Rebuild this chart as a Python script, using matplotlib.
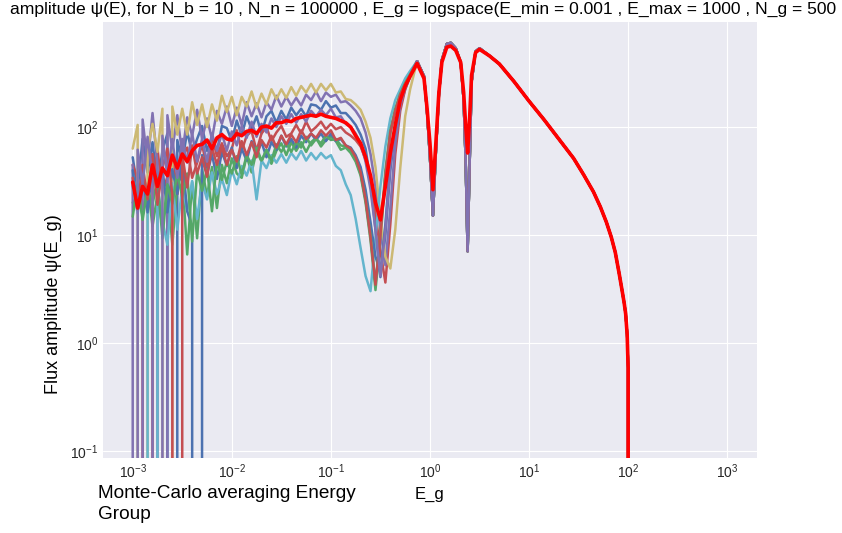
import numpy as np
import matplotlib
matplotlib.use("Agg")
import matplotlib.pyplot as plt
from cycler import cycler

plt.style.use("seaborn-v0_8-darkgrid")
plt.rcParams["axes.prop_cycle"] = cycler(color=["#4C72B0", "#55A868", "#C44E52",
                                                "#8172B2", "#CCB974", "#64B5CD"])

# energy grid: uniform in log10(E) through the thermal / epithermal part,
# then hand-placed points through the resonances and the fast tail
E_low = np.logspace(-3.0, -0.2, 57)
log_E_high = [-0.13, -0.06, -0.03, 0.0, 0.03, 0.06, 0.09, 0.12, 0.17, 0.21,
              0.26, 0.31, 0.34, 0.36, 0.38, 0.40, 0.42, 0.46, 0.50,
              0.60, 0.70, 0.85, 1.00, 1.15, 1.30, 1.45, 1.55, 1.65, 1.72,
              1.78, 1.83, 1.87, 1.91, 1.94, 1.96, 1.975, 1.99, 2.00, 2.01]

# log10 of the batch flux on E_low; None marks an empty tally (flux = 0)
log_flux_b0 = [1.72, 1.42, 1.89, 1.58, 1.86, 1.46, 1.78, 1.94, None, 1.88,
               1.68, 1.96, 1.75, 1.89, 2.01, 1.78, 1.91, 1.77, 2.01, 1.99,
               1.87, 2.06, 1.92, 2.10, 1.98, 2.10, 1.94, 2.10, 2.15, 2.04,
               2.15, 2.07, 2.18, 2.11, 2.17, 2.10, 2.21, 2.20, 2.16, 2.24,
               2.18, 2.20, 2.13, 2.13,
               2.08, 2.02, 1.93, 1.80, 1.50, 1.05, 0.61, 1.00, 1.60, 1.98,
               2.20, 2.35, 2.47]
log_flux_b1 = [1.30, 1.37, 1.18, 1.48, 1.08, 1.38, 1.07, 1.46, 0.91, 1.48,
               1.55, 0.82, 1.49, 0.97, 1.61, 1.36, 1.63, 1.25, 1.65, 1.48,
               1.71, 1.57, 1.53, 1.73, 1.58, 1.78, 1.68, 1.79, 1.66, 1.78,
               1.85, 1.74, 1.86, 1.78, 1.86, 1.77, 1.86, 1.90, 1.82, 1.88,
               1.91, 1.87, 1.79, 1.81,
               1.76, 1.68, 1.55, 1.30, 0.95, 0.49, 0.95, 1.55, 1.95, 2.15,
               2.30, 2.40, 2.48]
log_flux_b2 = [1.65, 1.52, 1.27, None, 1.43, 1.80, 1.39, 1.54, 1.76, 1.38,
               1.73, 1.81, 1.53, 1.67, 1.84, 1.62, 1.92, 1.73, 1.85, 1.73,
               1.80, 1.97, 1.78, 1.92, 1.96, 1.78, 1.94, 2.00, 1.87, 1.95,
               2.01, 1.91, 1.94, 2.02, 1.94, 2.05, 1.96, 2.00, 2.05, 1.98,
               2.03, 1.98, 2.00, 1.95,
               1.92, 1.88, 1.82, 1.70, 1.50, 1.20, 0.85, 0.56, 1.10, 1.75,
               2.15, 2.35, 2.47]
log_flux_b3 = [1.65, None, 2.07, 1.66, 2.13, 1.65, None, 2.11, 1.79, 2.11,
               1.75, 2.09, 1.92, 2.16, 1.89, 2.08, 1.89, 2.15, 2.03, 2.19,
               2.01, 2.18, 2.02, 2.23, 2.10, 2.22, 2.09, 2.23, 2.16, 2.29,
               2.19, 2.28, 2.20, 2.27, 2.20, 2.30, 2.25, 2.33, 2.24, 2.32,
               2.28, 2.30, 2.23, 2.24,
               2.20, 2.15, 2.08, 1.95, 1.75, 1.45, 1.05, 0.72, 1.25, 1.85,
               2.20, 2.38, 2.48]
log_flux_b4 = [1.80, 2.02, None, 1.79, 2.03, 1.77, 2.17, None, 2.19, 1.93,
               2.17, 1.93, 2.23, 2.02, 2.21, 2.00, 2.21, 2.06, 2.29, 2.14,
               2.28, 2.11, 2.28, 2.19, 2.33, 2.18, 2.31, 2.21, 2.35, 2.26,
               2.35, 2.27, 2.37, 2.29, 2.38, 2.32, 2.40, 2.32, 2.40, 2.34,
               2.40, 2.32, 2.33, 2.26,
               2.25, 2.21, 2.16, 2.05, 1.90, 1.63, 1.17, 0.80, 0.69, 1.05,
               1.62, 2.10, 2.35]
log_flux_b5 = [1.45, 1.20, 1.51, 1.24, None, 1.45, 1.13, 0.91, 1.48, 1.05,
               1.45, 1.22, 1.50, 1.15, 1.49, 1.33, 1.58, 1.38, 1.52, 1.37,
               1.60, 1.47, 1.64, 1.55, 1.69, 1.33, 1.69, 1.62, 1.74, 1.67,
               1.75, 1.67, 1.76, 1.70, 1.78, 1.69, 1.76, 1.70, 1.76, 1.71,
               1.74, 1.64, 1.60, 1.47,
               1.37, 1.15, 0.88, 0.62, 0.48, 0.98, 1.45, 1.82, 2.08, 2.25,
               2.35, 2.45, 2.52]
log_flux_b6 = [1.60, 1.25, 1.57, 1.21, 1.65, 1.37, 1.62, 1.21, 1.61, 1.38,
               1.71, 1.22, 1.08, None, 1.74, 1.56, 1.75, 1.52, 1.77, 1.64,
               1.81, 1.62, 1.80, 1.69, 1.87, 1.75, 1.86, 1.72, 1.86, 1.79,
               1.92, 1.82, 1.89, 1.81, 1.92, 1.86, 1.94, 1.88, 1.94, 1.87,
               1.94, 1.87, 1.89, 1.83,
               1.81, 1.74, 1.63, 1.42, 1.12, 0.80, 0.65, 1.10, 1.68, 2.02,
               2.23, 2.37, 2.48]
log_flux_b7 = [1.17, 1.47, 1.14, 1.43, 1.28, 1.53, 0.97, 1.47, 1.29, 1.58,
               1.35, 1.57, 0.94, 1.59, 1.41, 1.61, 1.22, 1.69, 1.51, 1.68,
               1.57, 1.73, 1.56, 1.74, 1.65, 1.81, 1.69, 1.79, 1.69, 1.84,
               1.77, 1.85, 1.77, 1.86, 1.81, 1.91, 1.83, 1.89, 1.85, 1.92,
               1.88, 1.89, 1.83, 1.82,
               1.78, 1.70, 1.57, 1.33, 1.00, 0.55, 1.02, 1.60, 1.97, 2.17,
               2.31, 2.41, 2.49]
log_flux_b8 = [1.53, 1.23, 1.65, 1.33, 1.75, 1.28, 1.62, 1.80, 1.37, None,
               1.75, 1.44, 1.83, 1.57, 1.72, 1.54, 1.81, 1.65, 1.82, 1.65,
               1.79, 1.68, 1.87, 1.74, 1.86, 1.72, 1.88, 1.81, 1.92, 1.81,
               1.92, 1.84, 1.93, 1.86, 1.97, 1.89, 1.94, 1.90, 1.97, 1.92,
               1.97, 1.88, 1.90, 1.83,
               1.80, 1.72, 1.58, 1.33, 0.98, 0.54, 1.00, 1.55, 1.95, 2.15,
               2.30, 2.40, 2.48]
log_flux_b9 = [None, 1.79, 1.47, 1.91, 1.55, None, 1.92, 1.54, 1.89, 1.53,
               1.89, 1.67, 1.94, 1.68, 1.89, 1.68, 1.94, 1.78, 1.94, 1.78,
               1.96, 1.83, 2.01, 1.90, 2.05, 1.91, 2.03, 1.95, 2.08, 2.00,
               2.10, 2.03, 2.12, 2.04, 2.12, 2.05, 2.15, 2.10, 2.16, 2.11,
               2.17, 2.09, 2.10, 2.03,
               2.00, 1.94, 1.85, 1.68, 1.42, 1.05, 0.62, 1.05, 1.65, 2.00,
               2.22, 2.37, 2.48]

# above ~0.7 eV the batches agree; one profile on log_E_high for all of them
log_flux_batch_high = [2.61, 2.47, 2.15, 1.72, 1.18, 1.78, 2.30, 2.62, 2.77, 2.78,
                       2.73, 2.60, 2.25, 1.70, 0.85, 1.65, 2.42, 2.70, 2.73,
                       2.66, 2.585, 2.42, 2.24, 2.07, 1.89, 1.71, 1.56, 1.40, 1.26,
                       1.12, 0.98, 0.84, 0.64, 0.48, 0.37, 0.27, 0.08, -0.23, None]

# batch average
log_flux_mean_low = [1.49, 1.25, 1.45, 1.38, 1.65, 1.45, 1.62, 1.55, 1.74, 1.62,
                     1.75, 1.68, 1.78, 1.83, 1.84, 1.88, 1.80, 1.90, 1.93, 1.89,
                     1.88, 1.94, 1.92, 1.96, 1.97, 1.94, 2.00, 2.01, 1.99, 2.04,
                     2.04, 2.06, 2.05, 2.08, 2.09, 2.10, 2.11, 2.10, 2.12, 2.10,
                     2.09, 2.08, 2.06, 2.04,
                     2.00, 1.92, 1.85, 1.72, 1.55, 1.30, 1.14, 1.45, 1.76, 2.02,
                     2.25, 2.38, 2.47]
log_flux_mean_high = [2.59, 2.45, 2.18, 1.85, 1.42, 1.86, 2.32, 2.60, 2.74, 2.75,
                      2.71, 2.60, 2.32, 2.02, 1.76, 2.08, 2.48, 2.69, 2.72,
                      2.66, 2.585, 2.42, 2.24, 2.07, 1.89, 1.71, 1.56, 1.40, 1.26,
                      1.12, 0.98, 0.84, 0.64, 0.48, 0.37, 0.27, 0.08, -0.23, None]

batches = [log_flux_b0, log_flux_b1, log_flux_b2, log_flux_b3, log_flux_b4,
           log_flux_b5, log_flux_b6, log_flux_b7, log_flux_b8, log_flux_b9]

N_b = 10
N_n = 100000
E_min, E_max, N_g = 0.001, 1000, 500


def to_flux(log_vals):
    # empty tallies are stored as None -> zero flux (drops off the log axis)
    return np.array([0.0 if v is None else 10.0 ** v for v in log_vals])


E_all = np.concatenate([E_low, 10.0 ** np.array(log_E_high)])

fig = plt.figure(figsize=(8.42, 5.33), dpi=100)
ax = fig.add_axes([0.1223, 0.1407, 0.7767, 0.818])
ax.set_xscale("log")
ax.set_yscale("log")

for b in batches:
    psi = np.concatenate([to_flux(b), to_flux(log_flux_batch_high)])
    ax.plot(E_all, psi, lw=1.8)

psi_mean = np.concatenate([to_flux(log_flux_mean_low), to_flux(log_flux_mean_high)])
ax.plot(E_all, psi_mean, color="r", lw=2.6)

ax.set_xlim(10 ** -3.3, 10 ** 3.3)
ax.set_ylim(0.086, 940)
ax.set_xticks([1e-3, 1e-2, 1e-1, 1e0, 1e1, 1e2, 1e3])
ax.set_yticks([1e-1, 1e0, 1e1, 1e2])
ax.minorticks_off()
ax.tick_params(labelsize=10)
ax.set_xlabel("E_g", fontsize=12, color="k")
ax.set_ylabel("Flux amplitude \u03c8(E_g)", fontsize=13, color="k")
ax.yaxis.set_label_coords(-0.063, 0.353)

title = ("amplitude \u03c8(E), for N_b = %d , N_n = %d , E_g = logspace(E_min = %g , "
         "E_max = %g , N_g = %d" % (N_b, N_n, E_min, E_max, N_g))
fig.text(423 / 842, 1 - 14 / 533, title, ha="center", va="baseline",
         fontsize=12.6, color="k")
fig.text(98 / 842, 1 - 485 / 533, "Monte-Carlo averaging Energy\nGroup",
         ha="left", va="top", fontsize=13.7, color="k", linespacing=1.3)

fig.savefig("out.png", dpi=100)
